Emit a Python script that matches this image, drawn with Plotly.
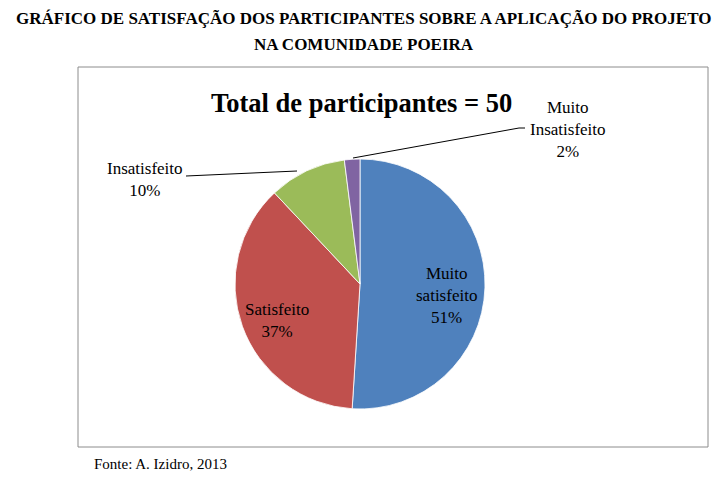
import plotly.graph_objects as go

# ---- data ----
categories = ["Muito satisfeito", "Satisfeito", "Insatisfeito", "Muito Insatisfeito"]
label_text = ["Muito<br>satisfeito", "Satisfeito", "Insatisfeito", "Muito<br>Insatisfeito"]
percent = [51, 37, 10, 2]
colors = ["#4F81BD", "#C0504D", "#9BBB59", "#8064A2"]

title_lines = ["GRÁFICO DE SATISFAÇÃO DOS PARTICIPANTES SOBRE A APLICAÇÃO DO PROJETO",
               "NA COMUNIDADE POEIRA"]
subtitle = "Total de participantes = 50"
source = "Fonte: A. Izidro, 2013"

W, H = 722, 480
SERIF = "Liberation Serif"

def px(x):
    return x / W

def py(y):
    return 1 - y / H

cx, cy, r = 360, 284, 125

fig = go.Figure(go.Pie(
    labels=categories,
    values=percent,
    sort=False,
    direction="clockwise",
    rotation=0,
    marker=dict(colors=colors, line=dict(color="rgba(255,255,255,0.8)", width=1)),
    textinfo="none",
    hovertemplate="%{label}: %{value}%<extra></extra>",
    domain=dict(x=[px(cx - r), px(cx + r)], y=[py(cy + r), py(cy - r)]),
    showlegend=False,
))

# label positions (centre of text block, pixels)
label_pos = [(446, 295), (277, 320), (145, 179), (568, 130)]
annotations = []
for txt, val, (lx, ly) in zip(label_text, percent, label_pos):
    annotations.append(dict(
        x=px(lx), y=py(ly), xref="paper", yref="paper",
        text=f"{txt}<br>{val}%", showarrow=False,
        font=dict(family=SERIF, size=17, color="#000000"),
        align="center", xanchor="center", yanchor="middle",
    ))

annotations += [
    dict(x=px(364), y=py(19), xref="paper", yref="paper", text=f"<b>{title_lines[0]}</b>",
         showarrow=False, font=dict(family=SERIF, size=17, color="#000"),
         xanchor="center", yanchor="middle"),
    dict(x=px(364), y=py(44), xref="paper", yref="paper", text=f"<b>{title_lines[1]}</b>",
         showarrow=False, font=dict(family=SERIF, size=17, color="#000"),
         xanchor="center", yanchor="middle"),
    dict(x=px(361), y=py(103), xref="paper", yref="paper", text=f"<b>{subtitle}</b>",
         showarrow=False, font=dict(family=SERIF, size=26.5, color="#000"),
         xanchor="center", yanchor="middle"),
    dict(x=px(92), y=py(464), xref="paper", yref="paper", text=source,
         showarrow=False, font=dict(family=SERIF, size=15, color="#000"),
         xanchor="left", yanchor="middle"),
]

shapes = [
    # chart frame
    dict(type="rect", xref="paper", yref="paper",
         x0=px(78), x1=px(708), y0=py(447), y1=py(67),
         line=dict(color="#8C8C8C", width=1), fillcolor="rgba(0,0,0,0)", layer="below"),
    # leader line: Insatisfeito
    dict(type="line", xref="paper", yref="paper",
         x0=px(186), y0=py(176), x1=px(297), y1=py(171),
         line=dict(color="#000", width=1)),
    # leader line: Muito Insatisfeito
    dict(type="line", xref="paper", yref="paper",
         x0=px(353), y0=py(158), x1=px(519), y1=py(128),
         line=dict(color="#000", width=1)),
    dict(type="line", xref="paper", yref="paper",
         x0=px(519), y0=py(128), x1=px(525), y1=py(128),
         line=dict(color="#000", width=1)),
]

fig.update_layout(
    width=W, height=H,
    margin=dict(l=0, r=0, t=0, b=0),
    paper_bgcolor="white", plot_bgcolor="white",
    font=dict(family=SERIF),
    annotations=annotations, shapes=shapes,
)

fig.write_html("out.html")
